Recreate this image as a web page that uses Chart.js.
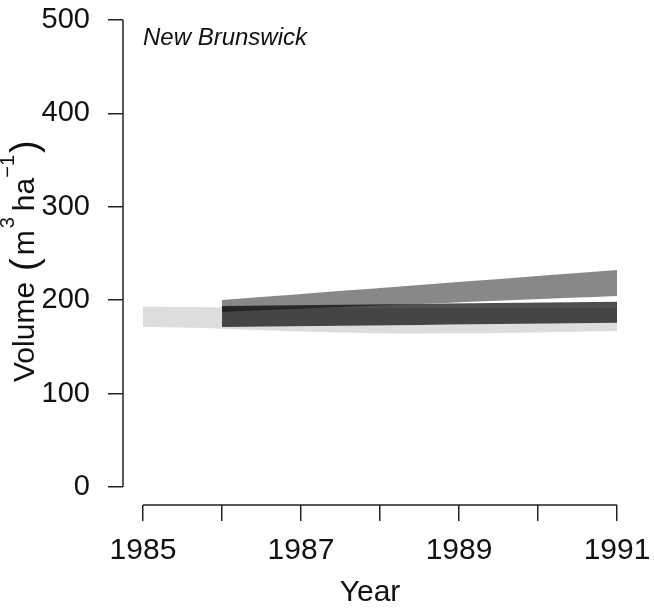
<!DOCTYPE html>
<html>
<head>
<meta charset="utf-8">
<script src="https://cdn.jsdelivr.net/npm/chart.js@4.4.1/dist/chart.umd.min.js"></script>
<style>
  html, body { margin: 0; padding: 0; background: #fff; }
  #wrap { width: 654px; height: 611px; }
</style>
</head>
<body>
<div id="wrap"><canvas id="volChart" width="654" height="611"></canvas></div>
<script>
// Volume bands, New Brunswick (m3/ha)
const yearsAll = [1985, 1986, 1987, 1988, 1989, 1990, 1991];
const lightLow  = [171.5, 169.5, 166.5, 164.5, 164.5, 165.5, 167];
const lightHigh = [193, 192.5, 192, 191.5, 191.5, 191.5, 191.5];

const yearsProj = [1986, 1991];
const medLow   = [187.5, 204.5];
const medHigh  = [200.2, 232.3];
const darkLow  = [171.3, 175.9];
const darkHigh = [193.8, 198.4];

const yTicks = [0, 100, 200, 300, 400, 500];
const xTicks = [1985, 1986, 1987, 1988, 1989, 1990, 1991];
const xLabelled = [1985, 1987, 1989, 1991];

const FONT = "'Liberation Sans', Arial, sans-serif";

function pts(xs, ys) {
  return xs.map((x, i) => ({ x: x, y: ys[i] }));
}

function band(xs, lo, hi, color) {
  return [
    { data: pts(xs, lo), borderWidth: 0, pointRadius: 0, fill: false, tension: 0.3 },
    { data: pts(xs, hi), borderWidth: 0, pointRadius: 0, fill: '-1', backgroundColor: color, tension: 0.3 }
  ];
}

// overlapping bands darken each other
const multiplyPlugin = {
  id: 'multiply',
  beforeDatasetsDraw(chart) {
    chart.ctx.save();
    chart.ctx.globalCompositeOperation = 'multiply';
  },
  afterDatasetsDraw(chart) {
    chart.ctx.restore();
  }
};

// R-style axes + labels
const decoPlugin = {
  id: 'deco',
  afterDraw(chart) {
    const ctx = chart.ctx;
    const xs = chart.scales.x, ys = chart.scales.y;
    const area = chart.chartArea;
    ctx.save();
    ctx.strokeStyle = '#222';
    ctx.lineWidth = 1.5;
    ctx.beginPath();
    ctx.moveTo(area.left, ys.getPixelForValue(0));
    ctx.lineTo(area.left, ys.getPixelForValue(500));
    ctx.moveTo(xs.getPixelForValue(1985), area.bottom);
    ctx.lineTo(xs.getPixelForValue(1991), area.bottom);
    ctx.stroke();

    // panel label
    ctx.fillStyle = '#111';
    ctx.font = 'italic 24px ' + FONT;
    ctx.textBaseline = 'alphabetic';
    ctx.textAlign = 'left';
    ctx.fillText('New Brunswick', xs.getPixelForValue(1985), 45);

    // y title with superscripts (gap = space before the piece)
    const parts = [
      { t: 'Volume', f: '30px ' + FONT, dy: 0, gap: 0 },
      { t: '(', f: '38px ' + FONT, dy: 3, gap: 11 },
      { t: 'm', f: '30px ' + FONT, dy: 0, gap: 3 },
      { t: '3', f: '20px ' + FONT, dy: -20, gap: 2 },
      { t: 'ha', f: '30px ' + FONT, dy: 0, gap: 6 },
      { t: '\u22121', f: '20px ' + FONT, dy: -20, gap: 0 },
      { t: ')', f: '38px ' + FONT, dy: 3, gap: 2 }
    ];
    ctx.translate(34, 382);
    ctx.rotate(-Math.PI / 2);
    let cx = 0;
    parts.forEach(p => {
      ctx.font = p.f;
      cx += p.gap;
      ctx.fillText(p.t, cx, p.dy);
      cx += ctx.measureText(p.t).width;
    });
    ctx.restore();
  }
};

function noPad(scale) {
  scale.paddingTop = 0;
  scale.paddingBottom = 0;
  scale.paddingLeft = 0;
  scale.paddingRight = 0;
}

const ctx = document.getElementById('volChart').getContext('2d');
new Chart(ctx, {
  type: 'line',
  data: {
    datasets: [
      ...band(yearsAll, lightLow, lightHigh, '#dddddd'),
      ...band(yearsProj, medLow, medHigh, '#888888'),
      ...band(yearsProj, darkLow, darkHigh, '#4f4f4f')
    ]
  },
  options: {
    responsive: false,
    animation: false,
    layout: { padding: { left: 0, top: 20, right: 37, bottom: 0 } },
    plugins: {
      legend: { display: false },
      tooltip: { enabled: false }
    },
    scales: {
      x: {
        type: 'linear',
        min: 1984.747,
        max: 1991,
        afterFit(scale) { scale.height = 106; noPad(scale); },
        afterBuildTicks(scale) { scale.ticks = xTicks.map(v => ({ value: v })); },
        border: { display: false },
        grid: { drawOnChartArea: false, drawTicks: true, tickLength: 16, color: '#222', lineWidth: 1.5 },
        ticks: {
          padding: 12,
          maxRotation: 0,
          autoSkip: false,
          color: '#111',
          font: { family: FONT, size: 30 },
          callback: v => xLabelled.includes(v) ? String(v) : ''
        },
        title: {
          display: true,
          text: 'Year',
          color: '#111',
          font: { family: FONT, size: 30 },
          padding: { top: 0, bottom: 0 }
        }
      },
      y: {
        min: -19.27,
        max: 500,
        afterFit(scale) { scale.width = 123; noPad(scale); },
        afterBuildTicks(scale) { scale.ticks = yTicks.map(v => ({ value: v })); },
        border: { display: false },
        grid: { drawOnChartArea: false, drawTicks: true, tickLength: 15, color: '#222', lineWidth: 1.5 },
        ticks: {
          padding: 18,
          color: '#111',
          font: { family: FONT, size: 29 }
        }
      }
    }
  },
  plugins: [multiplyPlugin, decoPlugin]
});
</script>
</body>
</html>
